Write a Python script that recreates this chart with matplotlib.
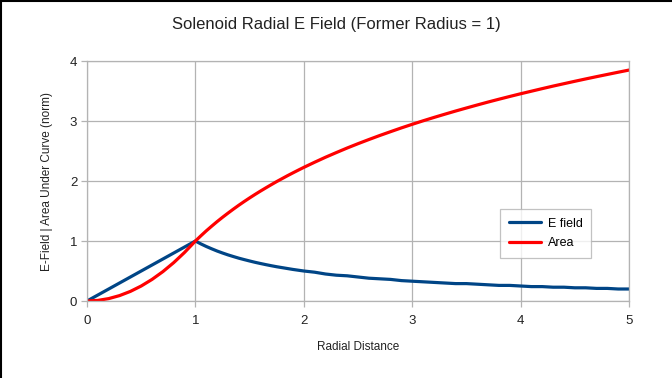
import matplotlib
matplotlib.use('Agg')
import matplotlib.pyplot as plt
from matplotlib.lines import Line2D

plt.rcParams['font.family'] = ['Liberation Sans', 'DejaVu Sans']

# radial distance samples (finer around the knee at r = 1)
radius = [0.0, 0.1, 0.2, 0.3, 0.4, 0.5, 0.6, 0.7, 0.8, 0.9, 1.0,
          1.05, 1.1, 1.15, 1.2, 1.25, 1.3, 1.35, 1.4, 1.45, 1.5,
          1.55, 1.6, 1.65, 1.7, 1.75, 1.8, 1.85, 1.9, 1.95, 2.0,
          2.1, 2.2, 2.3, 2.4, 2.5, 2.6, 2.7, 2.8, 2.9, 3.0,
          3.1, 3.2, 3.3, 3.4, 3.5, 3.6, 3.7, 3.8, 3.9, 4.0,
          4.1, 4.2, 4.3, 4.4, 4.5, 4.6, 4.7, 4.8, 4.9, 5.0]

e_field = [0.0, 0.1, 0.2, 0.3, 0.4, 0.5, 0.6, 0.7, 0.8, 0.9, 1.0,
           0.952, 0.909, 0.870, 0.833, 0.800, 0.769, 0.741, 0.714, 0.690, 0.667,
           0.645, 0.625, 0.606, 0.588, 0.571, 0.556, 0.541, 0.526, 0.513, 0.500,
           0.48, 0.45, 0.43, 0.42, 0.40, 0.38, 0.37, 0.36, 0.34, 0.33,
           0.32, 0.31, 0.30, 0.29, 0.29, 0.28, 0.27, 0.26, 0.26, 0.25,
           0.24, 0.24, 0.23, 0.23, 0.22, 0.22, 0.21, 0.21, 0.20, 0.20]

area = [0.0, 0.01, 0.04, 0.09, 0.16, 0.25, 0.36, 0.49, 0.64, 0.81, 1.0,
        1.086, 1.169, 1.247, 1.323, 1.395, 1.464, 1.531, 1.596, 1.658, 1.718,
        1.776, 1.832, 1.886, 1.939, 1.991, 2.040, 2.089, 2.136, 2.182, 2.227,
        2.313, 2.396, 2.474, 2.550, 2.622, 2.691, 2.758, 2.822, 2.885, 2.945,
        3.003, 3.059, 3.113, 3.166, 3.217, 3.267, 3.316, 3.363, 3.409, 3.454,
        3.497, 3.540, 3.582, 3.622, 3.662, 3.701, 3.739, 3.776, 3.813, 3.849]

x_ticks = [0, 1, 2, 3, 4, 5]
y_ticks = [0, 1, 2, 3, 4]

grid_col = '#b3b3b3'

fig = plt.figure(figsize=(6.72, 3.78), dpi=100)
ax = fig.add_axes([0.1295, 0.2037, 0.8065, 0.6349])

ax.plot(radius, e_field, color='#004586', lw=2.3, label='E field', solid_capstyle='round')
ax.plot(radius, area, color='#ff0000', lw=2.3, label='Area', solid_capstyle='round')

ax.set_xlim(0, 5)
ax.set_ylim(0, 4)
ax.set_xticks(x_ticks)
ax.set_yticks(y_ticks)
ax.grid(True, color=grid_col, lw=0.9)
ax.set_axisbelow(True)
for s in ax.spines.values():
    s.set_color(grid_col)
    s.set_linewidth(0.9)
ax.tick_params(colors=grid_col, labelcolor='#222222', labelsize=9.5, length=4, width=0.9, pad=3)
ax.tick_params(axis='x', pad=6)

ax.set_xlabel('Radial Distance', fontsize=8.5, color='#222222', labelpad=10)
ax.set_ylabel('E-Field | Area Under Curve (norm)', fontsize=8.5, color='#222222', labelpad=12)
fig.suptitle('Solenoid Radial E Field (Former Radius = 1)', fontsize=12, color='#222222', y=0.955)

leg = ax.legend(loc='lower left', bbox_to_anchor=(0.762, 0.179), borderaxespad=0,
                fontsize=9, frameon=True, fancybox=False, handlelength=2.6,
                borderpad=0.7, labelspacing=0.6, handletextpad=0.5)
leg.get_frame().set_edgecolor(grid_col)
leg.get_frame().set_linewidth(0.9)

# black border at top and left of the screenshot
fig.add_artist(Line2D([0.001, 0.001], [0, 1], transform=fig.transFigure, color='black', lw=1.5))
fig.add_artist(Line2D([0, 1], [0.998, 0.998], transform=fig.transFigure, color='black', lw=1.5))

fig.savefig('out.png', dpi=100)
